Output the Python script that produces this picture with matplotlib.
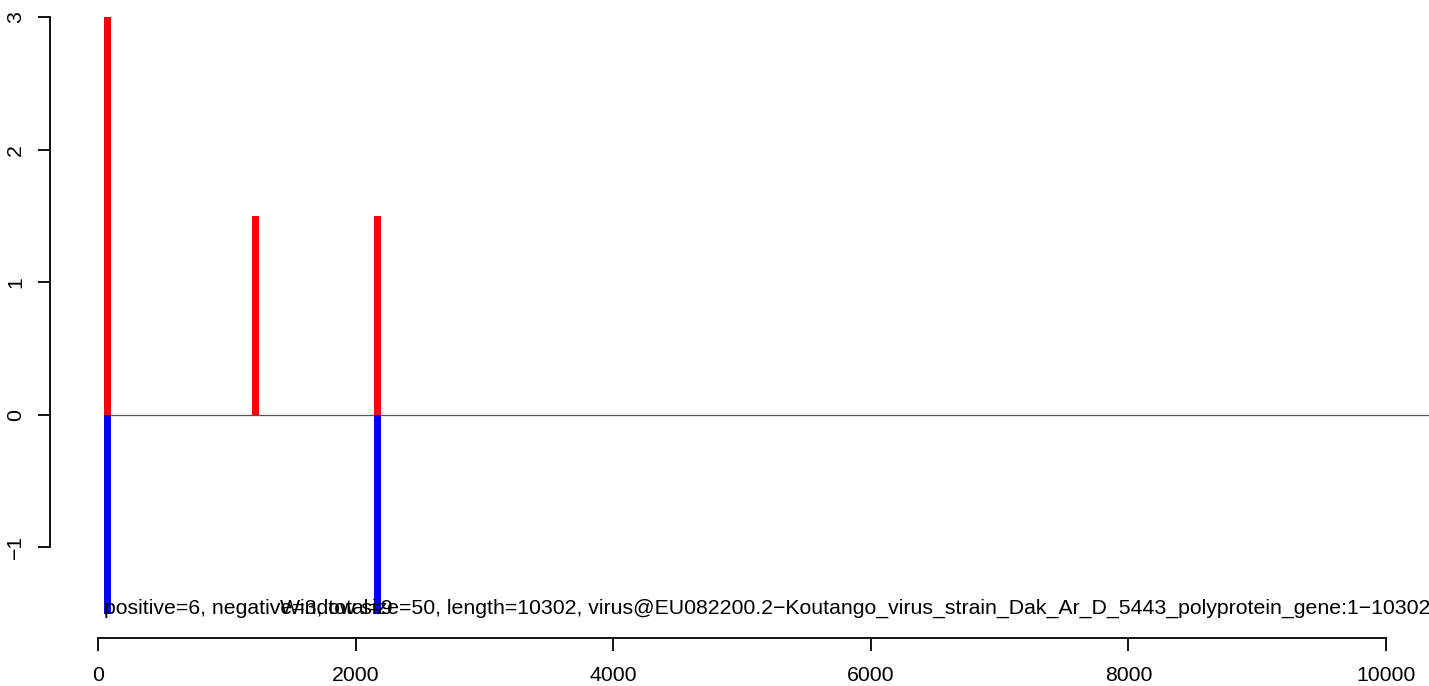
import matplotlib
matplotlib.use("Agg")
import matplotlib.pyplot as plt

plt.rcParams['font.family'] = ['Liberation Sans', 'DejaVu Sans']

# window positions and scores
pos_x = [72, 1223, 2168]
pos_val = [3, 1.5, 1.5]
neg_x = [72, 2168]
neg_val = [-1.5, -1.5]
seq_len = 10302
win = 50
n_pos, n_neg = 6, 3
name = "virus@EU082200.2\u2212Koutango_virus_strain_Dak_Ar_D_5443_polyprotein_gene:1\u221210302"

W, H = 1429, 686
fig = plt.figure(figsize=(W / 100, H / 100), dpi=100)
# axes: left spine at px 50, right at figure edge, top y=17, bottom y=638
ax = fig.add_axes([50 / W, (H - 638) / H, (W - 50) / W, (638 - 17) / H])

px_per_unit = (1386 - 98) / 10000
ax.set_xlim((50 - 98) / px_per_unit, (W - 98) / px_per_unit)
ypx = (547 - 17) / 4
ax.set_ylim(-(638 - 415) / ypx, 3)

bw = 56
fs = 15.3
ax.hlines(0, pos_x[0] - bw / 2, seq_len + 100, color='#555555', lw=0.9, zorder=1)
ax.bar(pos_x, pos_val, width=bw, color='red', zorder=2)
ax.bar(neg_x, neg_val, width=bw, color='blue', zorder=2)

ax.text(pos_x[0] - bw / 2 + 3, -1.5, "positive=%d, negative=%d, total=%d" % (n_pos, n_neg, n_pos + n_neg),
        ha='left', va='baseline', fontsize=fs)
ax.text(1413, -1.5, "Window size=%d, length=%d, %s" % (win, seq_len, name),
        ha='left', va='baseline', fontsize=fs)

for s in ['top', 'right']:
    ax.spines[s].set_visible(False)
ax.spines['left'].set_bounds(-1, 3)
ax.spines['bottom'].set_bounds(0, 10000)
for s in ['left', 'bottom']:
    ax.spines[s].set_linewidth(1.3)

ax.set_xticks([0, 2000, 4000, 6000, 8000, 10000])
ax.set_yticks([-1, 0, 1, 2, 3])
ax.set_yticklabels(['\u22121', '0', '1', '2', '3'], rotation=90, va='center')
ax.tick_params(axis='both', length=9, width=1.3, labelsize=fs)
ax.tick_params(axis='x', pad=11)
ax.tick_params(axis='y', pad=9)

fig.savefig("out.png", dpi=100)
